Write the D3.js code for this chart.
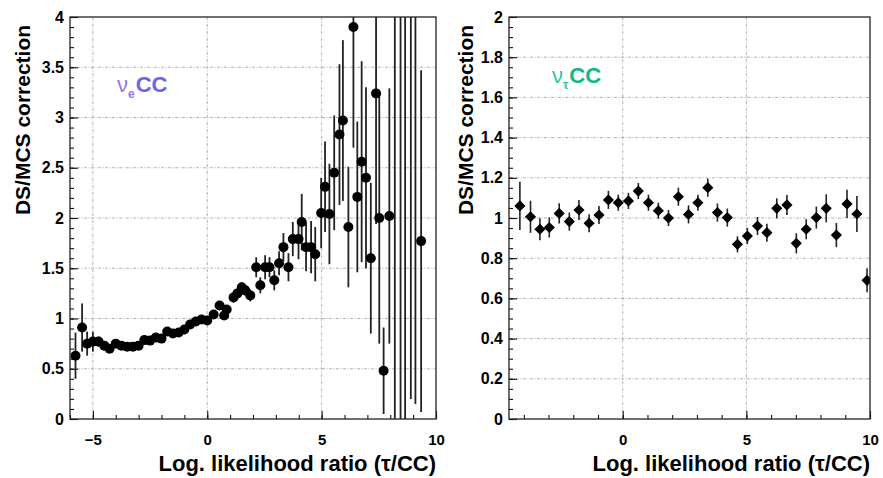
<!DOCTYPE html>
<html>
<head>
<meta charset="utf-8">
<script src="https://cdn.jsdelivr.net/npm/d3@7"></script>
<style>
  html, body { margin: 0; padding: 0; background: #fff; }
  svg { display: block; }
  text { font-family: "Liberation Sans", Arial, Helvetica, sans-serif; font-weight: bold; }
</style>
</head>
<body>
<svg id="chart" width="883" height="478"></svg>
<script>
// ---------------- DATA ----------------
// Left panel: nu_e CC
const nueX = [-5.76,-5.47,-5.25,-5.0,-4.75,-4.5,-4.27,-4.0,-3.75,-3.5,-3.25,-3.0,-2.75,-2.5,-2.25,-2.0,-1.75,-1.5,-1.25,-1.0,-0.75,-0.5,-0.25,0.0,0.28,0.54,0.74,0.85,1.15,1.32,1.51,1.66,1.88,2.14,2.32,2.53,2.72,2.93,3.14,3.33,3.55,3.74,3.99,4.13,4.32,4.54,4.72,4.98,5.15,5.34,5.55,5.78,5.93,6.17,6.39,6.56,6.75,6.94,7.15,7.38,7.52,7.71,7.96,8.2,8.45,8.65,8.9,9.1,9.35];
const nueY = [0.63,0.91,0.75,0.77,0.77,0.73,0.70,0.75,0.73,0.72,0.72,0.73,0.785,0.78,0.81,0.80,0.87,0.85,0.86,0.89,0.94,0.97,0.99,0.98,1.04,1.13,1.03,1.09,1.21,1.25,1.31,1.28,1.23,1.51,1.33,1.51,1.51,1.38,1.55,1.71,1.51,1.79,1.79,1.96,1.71,1.71,1.64,2.05,2.31,2.04,2.45,2.83,2.97,1.91,3.90,2.21,2.56,2.40,1.60,3.24,2.00,0.48,2.02,4.8,5.0,4.5,5.2,4.7,1.77];
const nueErr = [0.23,0.24,0.12,0.10,0.05,0.04,0.03,0.03,0.03,0.03,0.03,0.03,0.03,0.03,0.03,0.03,0.03,0.03,0.03,0.03,0.03,0.03,0.03,0.03,0.04,0.04,0.04,0.04,0.05,0.05,0.05,0.05,0.06,0.10,0.08,0.12,0.10,0.10,0.12,0.14,0.14,0.17,0.20,0.28,0.24,0.26,0.27,0.35,0.45,0.50,0.57,0.70,0.80,0.60,1.20,0.75,1.00,0.90,0.75,1.30,1.25,0.43,1.27,4.9,5.1,4.6,5.0,4.55,1.70];

// Right panel: nu_tau CC
const nutX = [-4.16,-3.73,-3.35,-2.97,-2.57,-2.16,-1.77,-1.36,-0.96,-0.58,-0.18,0.23,0.63,1.04,1.44,1.85,2.25,2.66,3.04,3.44,3.83,4.23,4.64,5.04,5.45,5.83,6.23,6.64,7.02,7.42,7.83,8.23,8.64,9.07,9.47,9.88];
const nutY = [1.06,1.006,0.944,0.953,1.023,0.982,1.04,0.974,1.015,1.09,1.076,1.085,1.134,1.076,1.036,1.0,1.106,1.018,1.076,1.151,1.027,1.002,0.869,0.91,0.96,0.927,1.048,1.065,0.874,0.944,1.002,1.048,0.915,1.07,1.02,0.69];
const nutErr = [0.12,0.08,0.055,0.05,0.05,0.045,0.05,0.045,0.045,0.045,0.04,0.04,0.04,0.04,0.04,0.04,0.045,0.045,0.04,0.045,0.045,0.045,0.04,0.04,0.045,0.045,0.05,0.05,0.05,0.05,0.055,0.07,0.06,0.07,0.09,0.06];

// Axis ticks / labels
const leftXMajor = [-5, 0, 5, 10];
const leftYMajor = [0, 0.5, 1, 1.5, 2, 2.5, 3, 3.5, 4];
const rightXMajor = [0, 5, 10];
const rightYMajor = [0, 0.2, 0.4, 0.6, 0.8, 1, 1.2, 1.4, 1.6, 1.8, 2];
const yTitle = "DS/MCS correction";
const xTitle = "Log. likelihood ratio (\u03C4/CC)";

// ---------------- DRAW ----------------
const svg = d3.select("#chart");

function panel(cfg) {
  const x = d3.scaleLinear().domain(cfg.xDomain).range([cfg.left, cfg.right]);
  const y = d3.scaleLinear().domain(cfg.yDomain).range([cfg.bottom, cfg.top]);
  const g = svg.append("g");

  const clipId = "clip" + cfg.id;
  svg.append("clipPath").attr("id", clipId).append("rect")
    .attr("x", cfg.left).attr("y", cfg.top)
    .attr("width", cfg.right - cfg.left).attr("height", cfg.bottom - cfg.top);

  // grid lines
  const grid = g.append("g").attr("stroke", "#a8a8a8").attr("stroke-width", 0.9)
    .attr("stroke-dasharray", "3,1.5,1,1.5");
  grid.selectAll("line.h").data(cfg.yMajor.filter(v => v > cfg.yDomain[0] && v < cfg.yDomain[1]))
    .join("line").attr("class", "h")
    .attr("x1", cfg.left).attr("x2", cfg.right)
    .attr("y1", d => y(d)).attr("y2", d => y(d));
  grid.selectAll("line.v").data(cfg.xGrid)
    .join("line").attr("class", "v")
    .attr("y1", cfg.top).attr("y2", cfg.bottom)
    .attr("x1", d => x(d)).attr("x2", d => x(d));

  // minor ticks
  const xAxisMinor = d3.axisBottom(x).tickValues(d3.range(Math.ceil(cfg.xDomain[0]), cfg.xDomain[1] + 0.001, 1))
    .tickSize(-4).tickFormat("");
  g.append("g").attr("transform", `translate(0,${cfg.bottom})`).call(xAxisMinor)
    .call(s => s.select(".domain").remove());
  const yAxisMinor = d3.axisLeft(y).tickValues(d3.range(cfg.yDomain[0], cfg.yDomain[1] + 1e-6, cfg.yMinorStep))
    .tickSize(-4).tickFormat("");
  g.append("g").attr("transform", `translate(${cfg.left},0)`).call(yAxisMinor)
    .call(s => s.select(".domain").remove());

  // major ticks
  const xAxis = d3.axisBottom(x).tickValues(cfg.xMajor).tickSize(-8).tickPadding(15)
    .tickFormat(d3.format("~g"));
  const gx = g.append("g").attr("transform", `translate(0,${cfg.bottom})`).call(xAxis);
  gx.select(".domain").remove();
  gx.selectAll("text").attr("font-size", 15).attr("fill", "#000")
    .attr("font-family", "Liberation Sans, Arial, sans-serif").attr("font-weight", "bold");
  const yAxis = d3.axisLeft(y).tickValues(cfg.yMajor).tickSize(-8).tickPadding(6)
    .tickFormat(d3.format("~g"));
  const gy = g.append("g").attr("transform", `translate(${cfg.left},0)`).call(yAxis);
  gy.select(".domain").remove();
  gy.selectAll("text").attr("font-size", 16).attr("fill", "#000")
    .attr("font-family", "Liberation Sans, Arial, sans-serif").attr("font-weight", "bold");
  g.selectAll(".tick line").attr("stroke", "#111").attr("stroke-width", 1.1);

  // data
  const pts = cfg.xs.map((v, i) => ({ x: v, y: cfg.ys[i], e: cfg.es[i] }));
  const dg = g.append("g").attr("clip-path", `url(#${clipId})`);
  dg.selectAll("line.err").data(pts).join("line").attr("class", "err")
    .attr("x1", d => x(d.x)).attr("x2", d => x(d.x))
    .attr("y1", d => y(d.y - d.e)).attr("y2", d => y(d.y + d.e))
    .attr("stroke", "#222").attr("stroke-width", cfg.errWidth);
  if (cfg.marker === "circle") {
    dg.selectAll("circle.pt").data(pts).join("circle").attr("class", "pt")
      .attr("cx", d => x(d.x)).attr("cy", d => y(d.y)).attr("r", 5).attr("fill", "#000");
  } else {
    const sym = d3.symbol().type(d3.symbolSquare).size(62);
    dg.selectAll("path.pt").data(pts).join("path").attr("class", "pt")
      .attr("d", sym)
      .attr("transform", d => `translate(${x(d.x)},${y(d.y)}) rotate(45)`)
      .attr("fill", "#000");
  }

  // frame
  g.append("rect").attr("x", cfg.left).attr("y", cfg.top)
    .attr("width", cfg.right - cfg.left).attr("height", cfg.bottom - cfg.top)
    .attr("fill", "none").attr("stroke", "#222").attr("stroke-width", 1.3);

  // titles
  g.append("text").attr("transform", `translate(${cfg.yTitleX},${(cfg.top + cfg.bottom) / 2 - 98}) rotate(-90)`)
    .attr("text-anchor", "middle").attr("font-size", 21).attr("fill", "#000").text(yTitle);
  g.append("text").attr("x", cfg.right).attr("y", 471).attr("text-anchor", "end")
    .attr("font-size", 22).attr("fill", "#000").text(xTitle);

  // annotation
  const a = g.append("text").attr("x", cfg.annX).attr("y", cfg.annY).attr("font-size", 22);
  a.append("tspan").attr("fill", cfg.annNuColor).attr("font-weight", "normal").text("\u03BD");
  a.append("tspan").attr("fill", cfg.annNuColor).attr("font-size", 12).attr("dy", 6).text(cfg.annSub);
  a.append("tspan").attr("fill", cfg.annColor).attr("dy", -6).attr("dx", 1).text("CC");
}

panel({
  id: "L", left: 70, right: 436, top: 17, bottom: 419,
  xDomain: [-6, 10], yDomain: [0, 4], xMajor: leftXMajor, yMajor: leftYMajor,
  xGrid: [-5, 0, 5], yMinorStep: 0.1,
  xs: nueX, ys: nueY, es: nueErr, marker: "circle", errWidth: 1.8,
  yTitleX: 30, annX: 117, annY: 92, annSub: "e", annNuColor: "#9a72ee", annColor: "#6e64e6"
});
panel({
  id: "R", left: 509, right: 870, top: 17, bottom: 419,
  xDomain: [-4.6, 10], yDomain: [0, 2], xMajor: rightXMajor, yMajor: rightYMajor,
  xGrid: [0, 5], yMinorStep: 0.05,
  xs: nutX, ys: nutY, es: nutErr, marker: "diamond", errWidth: 1.6,
  yTitleX: 473, annX: 552, annY: 83, annSub: "\u03C4", annNuColor: "#2cc6a0", annColor: "#10b888"
});
</script>
</body>
</html>
